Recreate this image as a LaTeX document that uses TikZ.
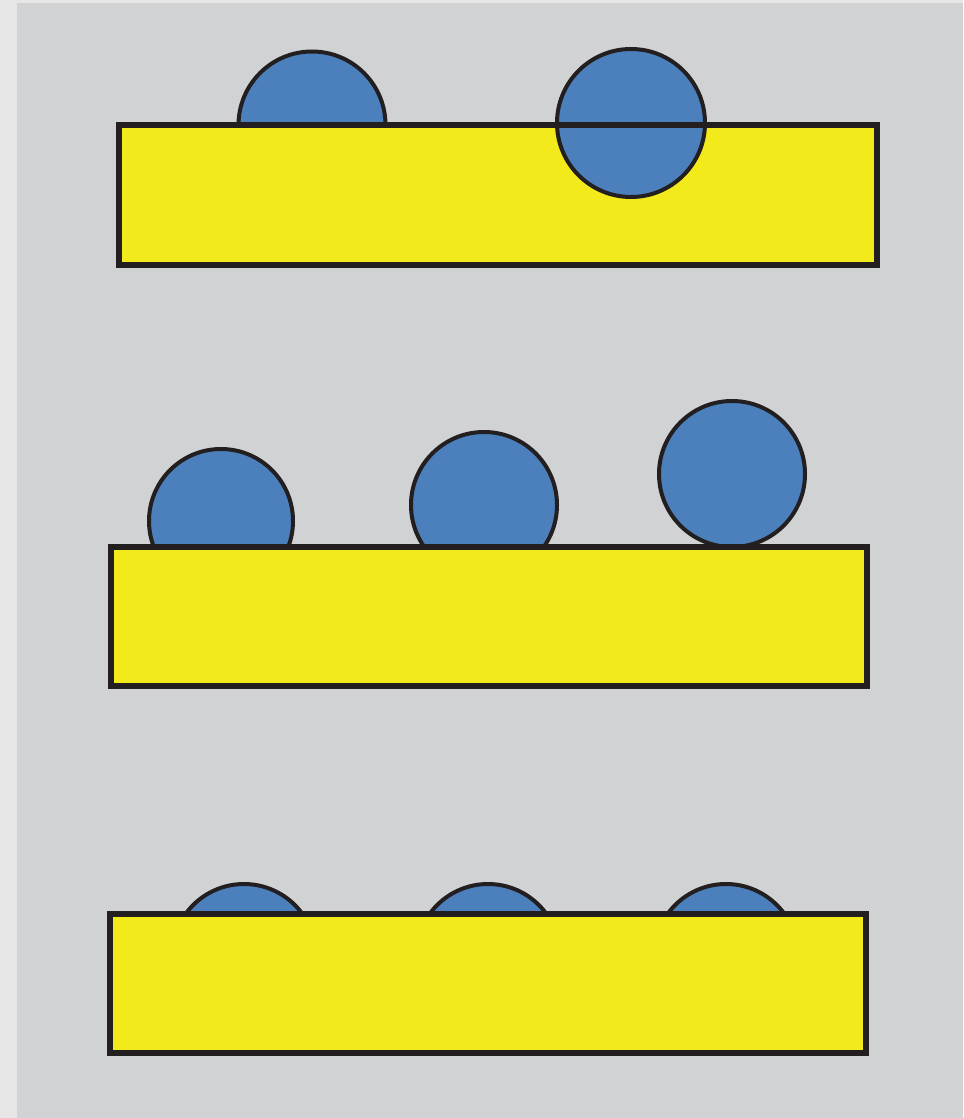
\documentclass[tikz,border=0pt]{standalone}
\definecolor{bgouter}{RGB}{230,230,230}
\definecolor{bgmain}{RGB}{209,210,212}
\definecolor{plate}{RGB}{242,234,26}
\definecolor{drop}{RGB}{75,128,189}
\definecolor{ink}{RGB}{35,31,32}
\tikzset{
  platefill/.style={fill=plate},
  plateline/.style={draw=ink,line width=5.5pt},
  dropstyle/.style={fill=drop,draw=ink,line width=4pt},
}
\begin{document}
\begin{tikzpicture}[x=1pt,y=-1pt]
\useasboundingbox (0,0) rectangle (963,1118);
\fill[bgouter] (0,0) rectangle (963,1118);
\fill[bgmain] (17,3) rectangle (963,1118);
% row 1
\draw[dropstyle] (312,125) circle (73.5);
\fill[platefill] (119,125) rectangle (877,265);
\draw[dropstyle] (631,123) circle (74);
\draw[plateline] (119,125) rectangle (877,265);
% row 2
\draw[dropstyle] (221,521) circle (72);
\draw[dropstyle] (484,505) circle (73);
\draw[dropstyle] (732,474) circle (73);
\fill[platefill] (111,547) rectangle (867,686);
\draw[plateline] (111,547) rectangle (867,686);
% row 3
\draw[dropstyle] (244,956) circle (72);
\draw[dropstyle] (488,956) circle (72);
\draw[dropstyle] (726,956) circle (72);
\fill[platefill] (110,914) rectangle (866,1053);
\draw[plateline] (110,914) rectangle (866,1053);
\end{tikzpicture}
\end{document}
